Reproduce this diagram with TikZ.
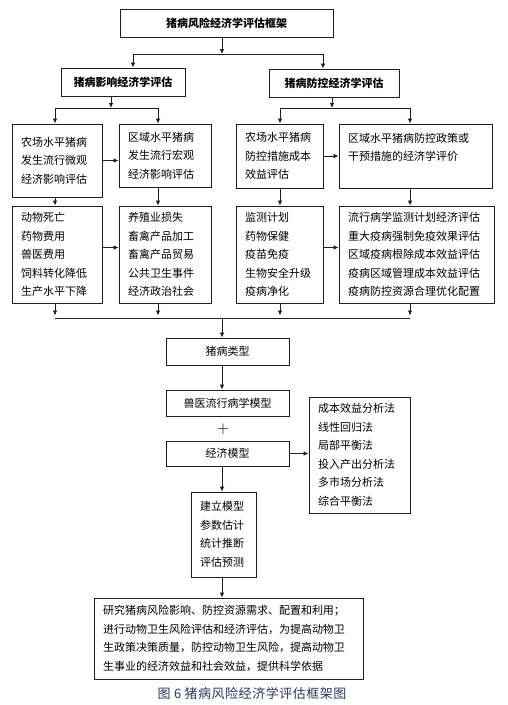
\documentclass[tikz,border=0pt]{standalone}
\usepackage{fontspec}
\newfontfamily\cjk{Noto Sans CJK SC}
\newfontfamily\capfont[LetterSpace=4]{Noto Sans CJK SC}
\usetikzlibrary{arrows.meta}
\definecolor{linec}{RGB}{30,30,30}
\definecolor{capc}{RGB}{40,55,100}

\begin{document}
\begin{tikzpicture}[x=1pt,y=-1pt,
  box/.style={draw=linec,line width=0.9pt,inner xsep=9pt,inner ysep=0pt,align=left,
    font=\cjk\fontsize{11}{18.5}\selectfont},
  midbox/.style={draw=linec,line width=0.9pt,inner sep=0pt,align=center,
    font=\cjk\fontsize{11}{13}\selectfont},
  headbox/.style={midbox,font=\cjk\bfseries\fontsize{11}{13}\selectfont},
  arr/.style={-{Latex[length=5pt,width=4.5pt]},draw=linec,line width=0.8pt},
  link/.style={draw=linec,line width=0.8pt}]
\useasboundingbox (0,0) rectangle (508,705);

% headings
\node[headbox,minimum width=213pt,minimum height=28pt] (top) at (226.5,23) {猪病风险经济学评估框架};
\node[headbox,minimum width=124pt,minimum height=28pt] (impact) at (123,82) {猪病影响经济学评估};
\node[headbox,minimum width=130pt,minimum height=28pt] (control) at (334,83) {猪病防控经济学评估};

% first row
\node[box,text width=72pt,minimum height=73pt] (farmimp) at (57,160.5) {农场水平猪病\\发生流行微观\\经济影响评估};
\node[box,text width=74pt,minimum height=63pt] (regimp) at (165,155.5) {区域水平猪病\\发生流行宏观\\经济影响评估};
\node[box,text width=69pt,minimum height=64pt] (farmctl) at (279.5,156) {农场水平猪病\\防控措施成本\\效益评估};
\node[box,text width=135pt,minimum height=64pt] (regctl) at (415.5,156) {区域水平猪病防控政策或\\干预措施的经济学评价\\\mbox{}};

% second row
\node[box,text width=72pt,minimum height=97pt] (farmloss) at (57,254.5) {动物死亡\\药物费用\\兽医费用\\饲料转化降低\\生产水平下降};
\node[box,text width=74pt,minimum height=97pt] (regloss) at (165,254.5) {养殖业损失\\畜禽产品加工\\畜禽产品贸易\\公共卫生事件\\经济政治社会};
\node[box,text width=69pt,minimum height=97pt] (farmmeas) at (279.5,254.5) {监测计划\\药物保健\\疫苗免疫\\生物安全升级\\疫病净化};
\node[box,text width=137pt,minimum height=97pt] (regmeas) at (416.5,254.5) {流行病学监测计划经济评估\\重大疫病强制免疫效果评估\\区域疫病根除成本效益评估\\疫病区域管理成本效益评估\\疫病防控资源合理优化配置};

% models
\node[midbox,minimum width=123pt,minimum height=27pt] (type) at (227.5,351.5) {猪病类型};
\node[midbox,minimum width=123pt,minimum height=26pt] (epi) at (227.5,403) {兽医流行病学模型};
\node (plus) at (223,429) {\fontsize{18}{18}\selectfont$+$};
\node[midbox,minimum width=123pt,minimum height=25pt] (econ) at (227.5,453.5) {经济模型};
\node[box,text width=83pt,minimum height=116pt] (methods) at (359.5,455) {成本效益分析法\\线性回归法\\局部平衡法\\投入产出分析法\\多市场分析法\\综合平衡法};
\node[box,text width=47pt,minimum height=85pt] (steps) at (223.5,534.5) {建立模型\\参数估计\\统计推断\\评估预测};
\node[box,text width=251pt,minimum height=81pt] (goal) at (228.5,638.5) {研究猪病风险影响、防控资源需求、配置和利用；\\进行动物卫生风险评估和经济评估，为提高动物卫\\生政策决策质量，防控动物卫生风险，提高动物卫\\生事业的经济效益和社会效益，提供科学依据};
\node[font=\capfont\fontsize{13}{15}\selectfont,text=capc] (cap) at (252,693) {图 6 猪病风险经济学评估框架图};

\coordinate (j1) at (222,54);
\coordinate (j2) at (111,108);
\coordinate (j3) at (332,108);
\coordinate (c1) at (55,318);
\coordinate (c2) at (158,318);
\coordinate (c3) at (280,318);
\coordinate (c4) at (410,318);
\coordinate (mid) at (222,318);

\draw[arr] (top.south -| j1) -- (j1);
\draw[arr] (j1) -| ([xshift=10pt]impact.north);
\draw[arr] (j1) -| ([xshift=-11pt]control.north);

\draw[arr] (impact.south -| j2) -- (j2);
\draw[arr] (j2) -| (farmimp.north -| c1);
\draw[arr] (j2) -| (regimp.north -| c2);
\draw[arr] (control.south -| j3) -- (j3);
\draw[arr] (j3) -| (farmctl.north -| c3);
\draw[arr] (j3) -| (regctl.north -| c4);

\draw[arr] (farmimp.east) -- (farmimp.east -| regimp.west);
\draw[arr] (farmctl.east) -- (farmctl.east -| regctl.west);
\draw[arr] (farmimp.south -| c1) -- (farmloss.north -| c1);
\draw[arr] (regimp.south -| c2) -- (regloss.north -| c2);
\draw[arr] (farmctl.south -| c3) -- (farmmeas.north -| c3);
\draw[arr] (regctl.south -| c4) -- (regmeas.north -| c4);
\draw[arr] ([yshift=7pt]farmloss.east) -- ([yshift=7pt]farmloss.east -| regloss.west);
\draw[arr] ([yshift=7pt]farmmeas.east) -- ([yshift=7pt]farmmeas.east -| regmeas.west);

\draw[arr] (farmloss.south -| c1) -- ([yshift=2.5pt]c1);
\draw[arr] (regloss.south -| c2) -- ([yshift=2.5pt]c2);
\draw[arr] (farmmeas.south -| c3) -- ([yshift=2.5pt]c3);
\draw[arr] (regmeas.south -| c4) -- ([yshift=2.5pt]c4);
\draw[link] (c1) -- (c4);

\draw[arr] (mid) -- (mid |- type.north);
\draw[arr] (mid |- type.south) -- (mid |- epi.north);
\draw[arr] (econ.east) -- (econ.east -| methods.west);
\draw[arr] (mid |- econ.south) -- (mid |- steps.north);
\draw[arr] (mid |- steps.south) -- (mid |- goal.north);
\end{tikzpicture}
\end{document}
